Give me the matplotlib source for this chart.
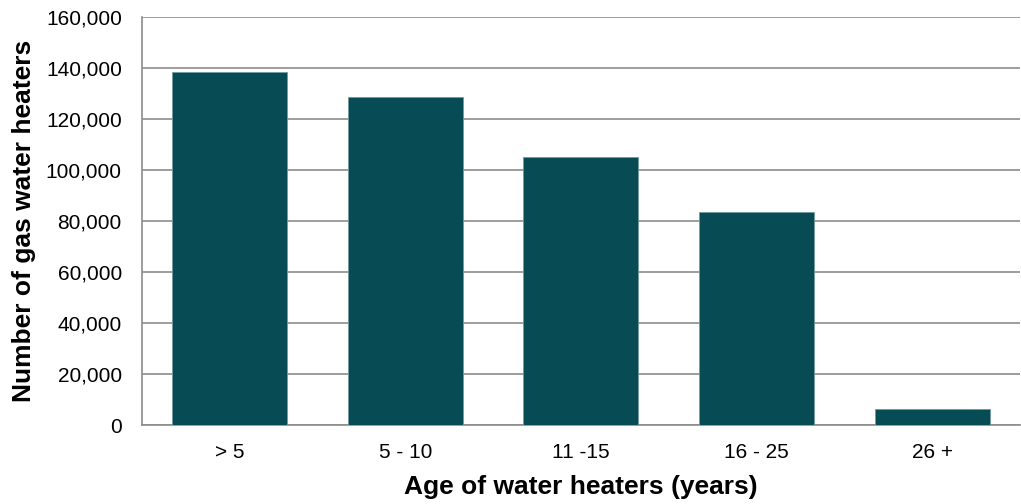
import matplotlib
matplotlib.use("Agg")
import matplotlib.pyplot as plt
from matplotlib.ticker import FuncFormatter

# data
ages = ["> 5", "5 - 10", "11 -15", "16 - 25", "26 +"]
heaters = [138500, 128700, 105300, 83600, 6600]

plt.rcParams['font.family'] = ['Liberation Sans', 'DejaVu Sans']

fig = plt.figure(figsize=(10.21, 5.04), dpi=100)
ax = fig.add_axes([0.139, 0.156, 0.86, 0.81])

ax.bar(range(len(ages)), heaters, width=0.655, color='#074B55',
       edgecolor='#6f9ba1', linewidth=0.6, zorder=3)

ax.set_xlim(-0.5, len(ages) - 0.5)
ax.set_ylim(0, 160000)
ax.set_yticks(range(0, 160001, 20000))
ax.yaxis.set_major_formatter(FuncFormatter(lambda v, p: f"{int(v):,}"))
ax.set_xticks(range(len(ages)))
ax.set_xticklabels(ages)

ax.grid(axis='y', color='#8c8c8c', linewidth=1.2, zorder=0)
for s in ['top', 'right']:
    ax.spines[s].set_visible(False)
for s in ['left', 'bottom']:
    ax.spines[s].set_color('#8c8c8c')
    ax.spines[s].set_linewidth(1.2)

ax.tick_params(axis='both', length=0, labelsize=15, colors='black')
ax.tick_params(axis='y', pad=14.5)
ax.tick_params(axis='x', pad=13)

ax.set_xlabel("Age of water heaters (years)", fontsize=19, fontweight='bold', labelpad=9)
ax.set_ylabel("Number of gas water heaters", fontsize=19, fontweight='bold', labelpad=7)

fig.savefig("out.png", dpi=100)
